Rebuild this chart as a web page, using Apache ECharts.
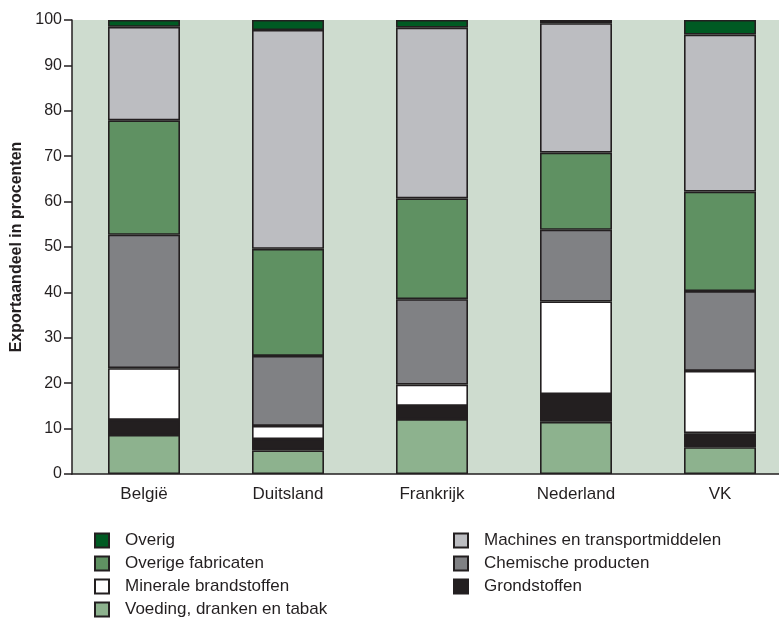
<!DOCTYPE html>
<html>
<head>
<meta charset="utf-8">
<script src="https://cdn.jsdelivr.net/npm/echarts@6/dist/echarts.min.js"></script>
<style>
html,body{margin:0;padding:0;background:#fff;}
#c{width:779px;height:622px;}
</style>
</head>
<body>
<div id="c"></div>
<script>
var categories = ['België', 'Duitsland', 'Frankrijk', 'Nederland', 'VK'];
var voeding = [8.6, 5.2, 12.1, 11.5, 5.9];
var grondstoffen = [3.3, 2.5, 2.9, 6.1, 3.1];
var minerale = [11.4, 2.9, 4.7, 20.4, 13.7];
var chemische = [29.4, 15.4, 18.8, 15.8, 17.6];
var overigeFab = [25.2, 23.6, 22.2, 17.0, 21.9];
var machines = [20.6, 48.2, 37.6, 28.5, 34.6];
var overig = [1.5, 2.2, 1.7, 0.7, 3.2];
var yTicks = [0, 10, 20, 30, 40, 50, 60, 70, 80, 90, 100];

var font = '"Liberation Sans", Arial, Helvetica, sans-serif';
var ink = '#231f20';

function mk(name, data, color) {
  return {
    name: name, type: 'bar', stack: 'tot', data: data, barWidth: '50%',
    itemStyle: { color: color, borderColor: ink, borderWidth: 1.6 },
    emphasis: { disabled: true }
  };
}

var chart = echarts.init(document.getElementById('c'), null, { renderer: 'canvas' });
chart.setOption({
  animation: false,
  backgroundColor: '#ffffff',
  grid: { left: 72, top: 20, width: 720, height: 454, outerBoundsMode: 'none', containLabel: false,
    show: true, backgroundColor: '#cedccf', borderWidth: 0 },
  xAxis: {
    type: 'category', data: categories,
    axisLine: { lineStyle: { color: ink, width: 1.5 } },
    axisTick: { length: 7, lineStyle: { color: ink, width: 1.5 } },
    axisLabel: { margin: 12, fontSize: 17, color: ink, fontFamily: font }
  },
  yAxis: {
    type: 'value', min: 0, max: 100, interval: 10,
    name: 'Exportaandeel in procenten', nameLocation: 'middle', nameGap: 43,
    nameTextStyle: { fontSize: 16, fontWeight: 'bold', color: ink, fontFamily: font },
    axisLine: { show: true, lineStyle: { color: ink, width: 1.5 } },
    axisTick: { show: true, length: 8, lineStyle: { color: ink, width: 1.5 } },
    axisLabel: { margin: 10, fontSize: 16, color: ink, fontFamily: font,
      formatter: function (v) { return yTicks.indexOf(v) >= 0 ? String(v) : ''; } },
    splitLine: { show: false }
  },
  legend: [
    {
      orient: 'vertical', left: 94, top: 532, padding: 0, itemWidth: 14, itemHeight: 14, itemGap: 6,
      icon: 'rect', height: 95,
      textStyle: { fontSize: 17, lineHeight: 16, color: ink, fontFamily: font, padding: [0, 0, 0, 11] },
      data: ['Overig', 'Overige fabricaten', 'Minerale brandstoffen', 'Voeding, dranken en tabak'],
      selectedMode: false
    },
    {
      orient: 'vertical', left: 453, top: 532, padding: 0, itemWidth: 14, itemHeight: 14, itemGap: 6,
      icon: 'rect', height: 95,
      textStyle: { fontSize: 17, lineHeight: 16, color: ink, fontFamily: font, padding: [0, 0, 0, 11] },
      data: ['Machines en transportmiddelen', 'Chemische producten', 'Grondstoffen'],
      selectedMode: false
    }
  ],
  series: [
    mk('Voeding, dranken en tabak', voeding, '#8db28e'),
    mk('Grondstoffen', grondstoffen, '#231f20'),
    mk('Minerale brandstoffen', minerale, '#ffffff'),
    mk('Chemische producten', chemische, '#808184'),
    mk('Overige fabricaten', overigeFab, '#5f9162'),
    mk('Machines en transportmiddelen', machines, '#bcbdc1'),
    mk('Overig', overig, '#005a23')
  ]
});
</script>
</body>
</html>
